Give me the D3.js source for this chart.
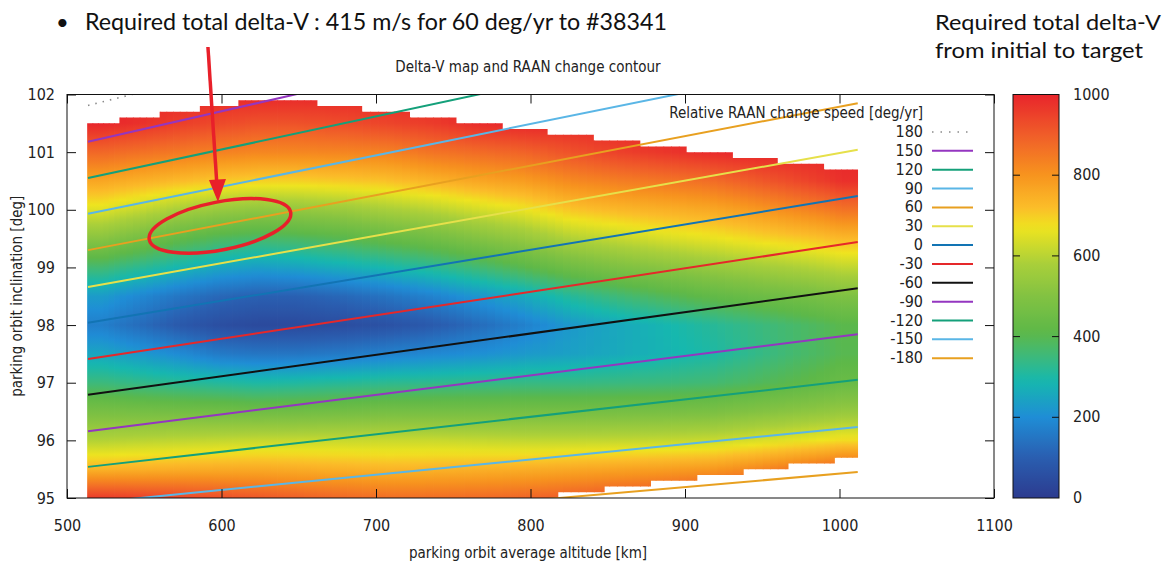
<!DOCTYPE html>
<html>
<head>
<meta charset="utf-8">
<script src="https://cdn.jsdelivr.net/npm/d3@7"></script>
<style>
  body { margin: 0; background: #fff; }
  svg text { font-family: "DejaVu Sans Condensed", "DejaVu Sans", sans-serif; font-stretch: condensed; fill: #222; }
  svg text.slide { font-family: Lato, "Open Sans", sans-serif; font-stretch: normal; fill: #111; }
</style>
</head>
<body>
<svg id="chart" width="1176" height="567"></svg>
<script>
// ---- data ----
// heat-map columns (altitude cell edges, km) and the upper limit of each column (deg)
const altEdges = [513, 534, 560, 586, 611, 636, 662, 691, 722, 752, 782, 811, 841, 871, 901, 931, 960, 990, 1012];
const topLimit = [101.5, 101.6, 101.7, 101.8, 101.9, 101.9, 101.8, 101.7, 101.6, 101.5, 101.4, 101.3, 101.2, 101.1, 101.0, 100.9, 100.8, 100.7];
// lower limit steps of the heat map
const bottomEdges = [513, 818, 848, 878, 908, 938, 967, 997, 1012];
const bottomLimit = [95.0, 95.1, 95.2, 95.3, 95.4, 95.5, 95.6, 95.7];

// inclination rows (deg) at which the delta-V of every column was read
const incRows = [95, 95.5, 96, 96.5, 97, 97.5, 98, 98.5, 99, 99.5, 100, 100.5, 101, 101.5, 102];
// required total delta-V [m/s], one list per column (bottom row first)
const deltaV = [
  [960, 740, 592, 475, 350, 250, 170, 230, 362, 514, 650, 765, 882, 1000, 1000],
  [950, 745, 600, 470, 335, 225, 130, 190, 325, 470, 615, 745, 865, 980, 1000],
  [940, 750, 607, 465, 320, 195, 85, 150, 285, 420, 575, 725, 850, 955, 1000],
  [925, 755, 612, 460, 310, 160, 55, 120, 250, 385, 545, 705, 835, 935, 1000],
  [910, 758, 617, 455, 300, 150, 42, 105, 235, 370, 530, 695, 825, 920, 1000],
  [895, 752, 618, 458, 305, 150, 42, 105, 245, 380, 535, 695, 825, 920, 1000],
  [880, 745, 619, 464, 315, 160, 50, 120, 265, 400, 550, 705, 828, 930, 1000],
  [870, 736, 620, 471, 325, 175, 65, 145, 290, 430, 575, 715, 835, 944, 1000],
  [870, 740, 620, 470, 330, 190, 90, 180, 320, 460, 600, 740, 860, 960, 1000],
  [875, 745, 615, 470, 335, 205, 130, 220, 360, 500, 635, 765, 875, 990, 1000],
  [885, 750, 610, 470, 340, 225, 175, 260, 405, 540, 665, 785, 890, 1000, 1000],
  [900, 760, 610, 470, 340, 240, 225, 315, 455, 590, 710, 820, 920, 1000, 1000],
  [915, 770, 612, 472, 345, 260, 255, 355, 490, 615, 730, 840, 950, 1000, 1000],
  [930, 780, 615, 475, 350, 280, 285, 390, 515, 640, 745, 855, 970, 1000, 1000],
  [950, 790, 620, 480, 360, 300, 315, 420, 540, 660, 760, 870, 990, 1000, 1000],
  [970, 820, 640, 500, 385, 335, 345, 445, 565, 685, 790, 905, 1000, 1000, 1000],
  [990, 860, 660, 520, 410, 370, 375, 465, 585, 705, 825, 940, 1000, 1000, 1000],
  [1000, 900, 680, 540, 440, 400, 405, 490, 610, 730, 860, 980, 1000, 1000, 1000]
];

// RAAN change contours: inclination at the first and last altitude
const raanLevels = [180, 150, 120, 90, 60, 30, 0, -30, -60, -90, -120, -150, -180];
const raanAlt = [513.6, 1011.8];
const raanIncStart = [101.81, 101.18, 100.55, 99.93, 99.30, 98.66, 98.04, 97.41, 96.79, 96.16, 95.54, 94.91, 94.29];
const raanIncEnd = [105.15, 104.23, 103.41, 102.64, 101.85, 101.04, 100.24, 99.44, 98.64, 97.84, 97.05, 96.23, 95.45];
const raanColors = ["#8a8a8a", "#9436c0", "#14a07a", "#5ab6e6", "#e8a020", "#e6e04a", "#1274b4", "#e5282a", "#111111", "#9436c0", "#14a07a", "#5ab6e6", "#e8a020"];

// axis ticks
const altTicks = [500, 600, 700, 800, 900, 1000, 1100];
const incTicks = [95, 96, 97, 98, 99, 100, 101, 102];
const cbTicks = [0, 200, 400, 600, 800, 1000];

// colour palette of the delta-V map
const paletteValues = [0, 100, 200, 290, 350, 410, 500, 580, 620, 670, 720, 800, 900, 1000];
const paletteColors = ["#2c3b8f", "#2a5eb0", "#1f8dd6", "#16b8ae", "#3cb97c", "#5db848", "#82c242", "#a9cf3a", "#c8d92e", "#efe41f", "#fbbd29", "#f7941e", "#f05d29", "#e8252b"];

// annotation target (altitude, inclination)
const markAlt = 599, markInc = 99.72;

// ---- drawing ----
const svg = d3.select("#chart");
const x = d3.scaleLinear().domain([500, 1100]).range([67, 994]);
const y = d3.scaleLinear().domain([95, 102]).range([498, 94.5]);
const color = d3.scaleLinear().domain(paletteValues).range(paletteColors).clamp(true);

const defs = svg.append("defs");

defs.append("clipPath").attr("id", "plot-clip")
  .append("rect")
  .attr("x", x(500)).attr("y", y(102))
  .attr("width", x(1100) - x(500)).attr("height", y(95) - y(102));

// outline of the heat map: steps on top, steps on bottom
const outline = [];
topLimit.forEach((t, i) => {
  outline.push([x(altEdges[i]), y(t)]);
  outline.push([x(altEdges[i + 1]), y(t)]);
});
for (let i = bottomLimit.length - 1; i >= 0; i--) {
  outline.push([x(bottomEdges[i + 1]), y(bottomLimit[i])]);
  outline.push([x(bottomEdges[i]), y(bottomLimit[i])]);
}
defs.append("clipPath").attr("id", "heat-clip")
  .append("path")
  .attr("d", "M" + outline.join("L") + "Z");

// shading: each column is split into thin strips that blend towards the
// neighbouring column, and each strip gets a vertical gradient
const span = incRows[incRows.length - 1] - incRows[0];
const sub = 6;      // gradient stops per row interval
const strips = 6;   // strips per column
const stripData = [];
deltaV.forEach((col, i) => {
  for (let k = 0; k < strips; k++) {
    const d = (k + 0.5) / strips - 0.5;
    const j = d < 0 ? Math.max(i - 1, 0) : Math.min(i + 1, deltaV.length - 1);
    const w = Math.abs(d);
    stripData.push({
      col: i, k,
      values: col.map((v, r) => v * (1 - w) + deltaV[j][r] * w)
    });
  }
});

stripData.forEach((s, n) => {
  const g = defs.append("linearGradient")
    .attr("id", `dv-${n}`)
    .attr("gradientUnits", "userSpaceOnUse")
    .attr("x1", 0).attr("x2", 0)
    .attr("y1", y(incRows[0]))
    .attr("y2", y(incRows[incRows.length - 1]));
  const vals = s.values;
  for (let r = 0; r < incRows.length - 1; r++) {
    for (let q = 0; q < sub; q++) {
      const t = q / sub;
      const inc = incRows[r] + (incRows[r + 1] - incRows[r]) * t;
      const v = vals[r] + (vals[r + 1] - vals[r]) * t;
      g.append("stop").attr("offset", (inc - incRows[0]) / span).attr("stop-color", color(v));
    }
  }
  g.append("stop").attr("offset", 1).attr("stop-color", color(vals[vals.length - 1]));
});

const heat = svg.append("g").attr("clip-path", "url(#heat-clip)");
heat.selectAll("rect")
  .data(stripData)
  .join("rect")
  .attr("x", d => {
    const a0 = altEdges[d.col], a1 = altEdges[d.col + 1];
    return x(a0 + (a1 - a0) * d.k / strips);
  })
  .attr("width", d => {
    const a0 = altEdges[d.col], a1 = altEdges[d.col + 1];
    return (x(a1) - x(a0)) / strips + 0.8;
  })
  .attr("y", y(102))
  .attr("height", y(95) - y(102))
  .attr("fill", (d, n) => `url(#dv-${n})`);

// RAAN contours
const lineGen = d3.line().x(d => x(d[0])).y(d => y(d[1]));
const lines = svg.append("g").attr("clip-path", "url(#plot-clip)");
raanLevels.forEach((lv, i) => {
  lines.append("path")
    .attr("d", lineGen([[raanAlt[0], raanIncStart[i]], [raanAlt[1], raanIncEnd[i]]]))
    .attr("fill", "none")
    .attr("stroke", raanColors[i])
    .attr("stroke-width", lv === 180 ? 1.6 : 2)
    .attr("stroke-dasharray", lv === 180 ? "1.5,6" : null);
});

// axes with inward ticks on all four sides
const tickLen = 9;
const gx = svg.append("g").attr("transform", `translate(0,${y(95)})`)
  .call(d3.axisBottom(x).tickValues(altTicks).tickSizeInner(-tickLen).tickSizeOuter(0).tickPadding(22).tickFormat(d3.format("d")));
svg.append("g").attr("transform", `translate(0,${y(102)})`)
  .call(d3.axisTop(x).tickValues(altTicks).tickSizeInner(-tickLen).tickSizeOuter(0).tickFormat(""));
const gy = svg.append("g").attr("transform", `translate(${x(500)},0)`)
  .call(d3.axisLeft(y).tickValues(incTicks).tickSizeInner(-tickLen).tickSizeOuter(0).tickPadding(12).tickFormat(d3.format("d")));
svg.append("g").attr("transform", `translate(${x(1100)},0)`)
  .call(d3.axisRight(y).tickValues(incTicks).tickSizeInner(-tickLen).tickSizeOuter(0).tickFormat(""));
svg.selectAll(".domain").remove();
svg.selectAll(".tick line").attr("stroke", "#111");
gx.selectAll("text").style("font-size", "16px").attr("fill", "#222");
gy.selectAll("text").style("font-size", "16px").attr("fill", "#222");

svg.append("rect")
  .attr("x", x(500)).attr("y", y(102))
  .attr("width", x(1100) - x(500)).attr("height", y(95) - y(102))
  .attr("fill", "none").attr("stroke", "#111").attr("stroke-width", 1);

// titles
svg.append("text").attr("x", 528).attr("y", 72).attr("text-anchor", "middle")
  .style("font-size", "15px").text("Delta-V map and RAAN change contour");
svg.append("text").attr("x", 528).attr("y", 558).attr("text-anchor", "middle")
  .style("font-size", "15px").text("parking orbit average altitude [km]");
svg.append("text").attr("transform", `translate(22,${(y(95) + y(102)) / 2}) rotate(-90)`)
  .attr("text-anchor", "middle")
  .style("font-size", "15px").text("parking orbit inclination [deg]");

// legend
const legend = svg.append("g").attr("transform", "translate(923,0)");
legend.append("text").attr("x", 0).attr("y", 118).attr("text-anchor", "end")
  .style("font-size", "15px").text("Relative RAAN change speed [deg/yr]");
raanLevels.forEach((lv, i) => {
  const cy = 132 + i * 18.85;
  legend.append("text").attr("x", 0).attr("y", cy + 5).attr("text-anchor", "end")
    .style("font-size", "16px").text(lv);
  legend.append("line")
    .attr("x1", 9).attr("x2", 50).attr("y1", cy).attr("y2", cy)
    .attr("stroke", raanColors[i])
    .attr("stroke-width", lv === 180 ? 1.6 : 2)
    .attr("stroke-dasharray", lv === 180 ? "1.5,7" : null);
});

// colour bar
const cbX = 1013, cbW = 46;
const yc = d3.scaleLinear().domain([0, 1000]).range([y(95), y(102)]);
const cbGrad = defs.append("linearGradient").attr("id", "cb-grad")
  .attr("gradientUnits", "userSpaceOnUse")
  .attr("x1", 0).attr("x2", 0).attr("y1", yc(0)).attr("y2", yc(1000));
d3.range(0, 1001, 20).forEach(v => {
  cbGrad.append("stop").attr("offset", v / 1000).attr("stop-color", color(v));
});
svg.append("rect").attr("x", cbX).attr("y", yc(1000))
  .attr("width", cbW).attr("height", yc(0) - yc(1000))
  .attr("fill", "url(#cb-grad)").attr("stroke", "#111").attr("stroke-width", 1);
const cb = svg.append("g");
cb.selectAll("line.l").data(cbTicks.filter(v => v > 0 && v < 1000)).join("line")
  .attr("x1", cbX).attr("x2", cbX + 7).attr("y1", d => yc(d)).attr("y2", d => yc(d))
  .attr("stroke", "#111");
cb.selectAll("line.r").data(cbTicks.filter(v => v > 0 && v < 1000)).join("line")
  .attr("x1", cbX + cbW - 7).attr("x2", cbX + cbW).attr("y1", d => yc(d)).attr("y2", d => yc(d))
  .attr("stroke", "#111");
cb.selectAll("text").data(cbTicks).join("text")
  .attr("x", cbX + cbW + 14).attr("y", d => yc(d) + 5)
  .style("font-size", "16px").text(d => d);

// slide annotations
svg.append("text").attr("class", "slide").attr("x", 56).attr("y", 30)
  .style("font-size", "22px").text("•");
svg.append("text").attr("class", "slide").attr("x", 85).attr("y", 30)
  .attr("textLength", 582).attr("lengthAdjust", "spacingAndGlyphs")
  .style("font-size", "23px").text("Required total delta-V : 415 m/s for 60 deg/yr to #38341");
svg.append("text").attr("class", "slide").attr("x", 935).attr("y", 30)
  .attr("textLength", 226).attr("lengthAdjust", "spacingAndGlyphs")
  .style("font-size", "22px").text("Required total delta-V");
svg.append("text").attr("class", "slide").attr("x", 935).attr("y", 58)
  .attr("textLength", 208).attr("lengthAdjust", "spacingAndGlyphs")
  .style("font-size", "22px").text("from initial to target");

const ann = svg.append("g");
const mx = x(markAlt), my = y(markInc);
ann.append("ellipse")
  .attr("transform", `translate(${mx},${my}) rotate(-11)`)
  .attr("rx", 72).attr("ry", 24)
  .attr("fill", "none").attr("stroke", "#e8202a").attr("stroke-width", 3.5);
const tipX = mx - 2, tipY = my - 24;
ann.append("line")
  .attr("x1", tipX - 10).attr("y1", 47).attr("x2", tipX - 1).attr("y2", tipY - 16)
  .attr("stroke", "#e8202a").attr("stroke-width", 3.5);
ann.append("path")
  .attr("d", `M${tipX},${tipY} L${tipX - 9},${tipY - 22} L${tipX + 8},${tipY - 23} Z`)
  .attr("fill", "#e8202a");
</script>
</body>
</html>
